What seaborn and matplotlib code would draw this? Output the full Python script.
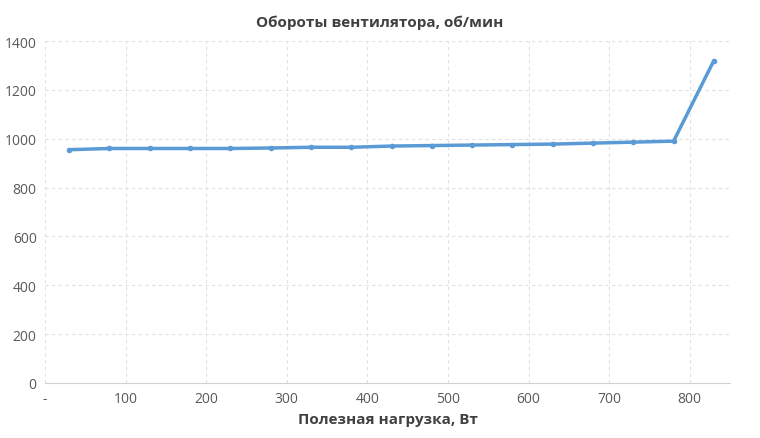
import matplotlib
matplotlib.use("Agg")
import matplotlib.pyplot as plt
import seaborn as sns
import pandas as pd

load_w = [30, 80, 130, 180, 230, 280, 330, 380, 430, 480, 530, 580, 630, 680, 730, 780, 830]
rpm = [955, 960, 960, 960, 960, 962, 965, 965, 970, 972, 974, 976, 978, 982, 986, 990, 1320]
x_ticks = [0, 100, 200, 300, 400, 500, 600, 700, 800]
x_labels = ["-", "100", "200", "300", "400", "500", "600", "700", "800"]

sns.set_style("white")
plt.rcParams['font.family'] = ['Open Sans', 'DejaVu Sans']
df = pd.DataFrame({"x": load_w, "y": rpm})
fig = plt.figure(figsize=(7.6, 4.39), dpi=100)
ax = fig.add_axes([45/760, 1-384/439, (730-45)/760, (384-42)/439])
sns.lineplot(data=df, x="x", y="y", ax=ax, color="#5b9bd5", linewidth=2.5,
             marker="o", markersize=4, markeredgewidth=0)
ax.set_xlim(0, 850)
ax.set_ylim(0, 1400)
ax.set_yticks(range(0, 1401, 200))
ax.set_xticks(x_ticks)
ax.set_xticklabels(x_labels)
ax.grid(True, color="#e0e0e0", linestyle=(0, (3, 3)), linewidth=0.8)
for s in ["top", "right", "left"]:
    ax.spines[s].set_visible(False)
ax.spines["bottom"].set_color("#d0d0d0")
ax.tick_params(axis="both", length=0, labelsize=10, colors="#595959", pad=6)
ax.set_xlabel("Полезная нагрузка, Вт", fontsize=11, fontweight="bold", color="#404040")
ax.set_ylabel("")
fig.suptitle("Обороты вентилятора, об/мин", y=0.965, fontsize=11, fontweight="bold", color="#404040")
fig.savefig("out.png", dpi=100)
